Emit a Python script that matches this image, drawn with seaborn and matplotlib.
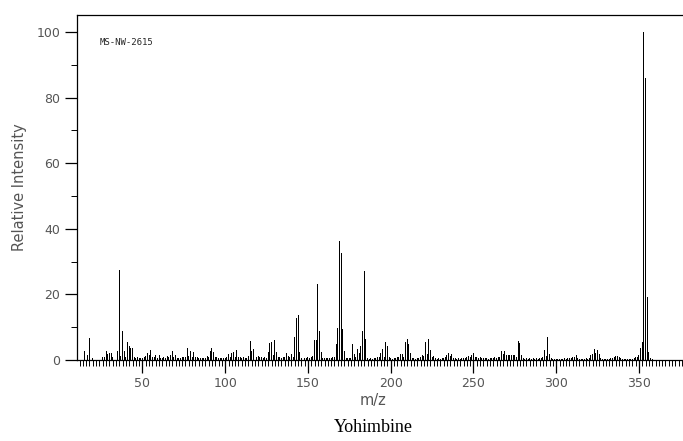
import numpy as np
import pandas as pd
import seaborn as sns
import matplotlib.pyplot as plt
from matplotlib.ticker import MultipleLocator

# relative intensity per integer m/z
mz_low = list(range(15, 100))
int_low = [2.8, 0, 1.5, 6.6, 0,                                # 15-19
           0.5, 0, 0, 0, 0, 0, 0.8, 1.0, 2.8, 1.8,              # 20-29
           2.0, 2.2, 1.0, 0, 0, 2.8, 27.5, 1.2, 8.9, 2.8,       # 30-39
           1.0, 5.6, 4.4, 3.6, 3.6, 1.0, 0.6, 0.8, 0.5, 0.7,    # 40-49
           0.6, 1.0, 1.2, 2.0, 1.5, 3.0, 0.8, 1.0, 1.5, 0.6,    # 50-59
           1.5, 0.5, 0.7, 1.0, 0.6, 1.2, 0.8, 1.5, 2.8, 1.0,    # 60-69
           1.5, 0.7, 0.5, 0.6, 1.0, 0.8, 1.0, 3.6, 1.2, 2.8,    # 70-79
           1.0, 2.3, 0.8, 1.0, 0.6, 0.7, 0.5, 0.6, 0.5, 1.2,    # 80-89
           0.8, 2.8, 3.6, 2.3, 1.0, 0.8, 0.7, 0.6, 0.5, 0.6]    # 90-99

mz_mid = list(range(100, 200))
int_mid = [0.5, 1.0, 1.8, 1.0, 2.0, 2.3, 1.0, 3.2, 1.0, 0.8,    # 100-109
           0.6, 1.0, 0.5, 0.7, 1.2, 5.9, 2.8, 3.4, 1.5, 1.0,    # 110-119
           1.2, 0.8, 1.0, 0.6, 0.8, 0.6, 2.5, 5.1, 5.4, 1.5,    # 120-129
           6.0, 2.4, 1.0, 0.8, 0.6, 1.0, 0.8, 2.0, 1.3, 0.8,    # 130-139
           1.7, 0.8, 7.0, 12.7, 13.8, 2.4, 0.6, 0.5, 0.7, 0.5,  # 140-149
           0.8, 0.6, 1.0, 1.2, 6.2, 6.0, 23.2, 8.8, 2.4, 0.6,   # 150-159
           0.7, 0.5, 0.6, 0.5, 0.6, 0.8, 1.0, 4.8, 9.7, 36.3,   # 160-169
           32.5, 9.6, 2.7, 0.6, 0.5, 0.6, 0.5, 4.8, 1.7, 0.8,   # 170-179
           3.3, 2.2, 4.3, 8.8, 27.1, 6.4, 0.7, 0.4, 0.5, 0.4,   # 180-189
           0.5, 0.6, 1.0, 1.0, 2.0, 3.3, 1.0, 5.6, 4.3, 0.8]    # 190-199

mz_high = list(range(200, 300))
int_high = [0.5, 0.4, 0.5, 0.6, 0.8, 1.0, 1.9, 1.9, 1.0, 5.6,   # 200-209
            6.3, 5.0, 2.2, 0.6, 0.5, 0.4, 0.5, 0.6, 0.8, 1.5,   # 210-219
            1.3, 5.6, 1.9, 6.5, 2.9, 0.8, 1.2, 0.5, 0.4, 0.5,   # 220-229
            0.4, 0.5, 0.6, 0.9, 1.4, 2.0, 1.2, 1.8, 0.6, 0.5,   # 230-239
            0.4, 0.5, 0.4, 0.5, 0.6, 0.5, 0.8, 1.2, 0.8, 1.5,   # 240-249
            2.0, 0.8, 1.0, 0.6, 0.8, 0.5, 0.6, 0.5, 0.7, 0.4,   # 250-259
            0.5, 0.6, 0.5, 0.8, 0.6, 1.0, 0.8, 2.6, 1.8, 2.6,   # 260-269
            1.6, 1.5, 1.6, 1.4, 1.5, 1.5, 0.8, 5.9, 5.2, 1.4,   # 270-279
            0.5, 0.4, 0.5, 0.4, 0.5, 0.4, 0.5, 0.4, 0.5, 0.4,   # 280-289
            0.6, 0.5, 0.8, 2.9, 1.2, 7.0, 1.8, 0.7, 0.4, 0.3]   # 290-299

mz_top = list(range(300, 359))
int_top = [0.4, 0.3, 0.4, 0.3, 0.4, 0.5, 0.4, 0.5, 0.6, 0.5,    # 300-309
           0.8, 1.0, 1.5, 0.5, 0.3, 0.4, 0.3, 0.4, 0.5, 0.4,    # 310-319
           0.6, 1.4, 1.7, 3.4, 2.2, 3.2, 1.7, 0.6, 0.4, 0.3,    # 320-329
           0.4, 0.3, 0.4, 0.5, 0.6, 1.0, 1.2, 1.1, 1.0, 0.7,    # 330-339
           0.4, 0.3, 0.4, 0.3, 0.4, 0.3, 0.4, 0.5, 0.8, 1.0,    # 340-349
           1.5, 3.6, 5.5, 100.0, 86.0, 19.3, 2.5, 0.6, 0.3]     # 350-358

df = pd.DataFrame({
    "mz": mz_low + mz_mid + mz_high + mz_top,
    "intensity": int_low + int_mid + int_high + int_top,
})

sns.set_style("ticks")
plt.rcParams["font.family"] = ["DejaVu Sans"]

fig = plt.figure(figsize=(6.83, 4.41), dpi=100)
ax = fig.add_axes([77 / 683, 81 / 441, 606 / 683, 345 / 441])

sns.histplot(data=df, x="mz", weights="intensity", discrete=True, shrink=0.6,
             color="black", alpha=1, linewidth=0, ax=ax)

ax.set_xlim(10.45, 376.6)
ax.set_ylim(0, 105.2)

for side in ["top", "left", "bottom"]:
    ax.spines[side].set_color("black")
    ax.spines[side].set_linewidth(0.9)
ax.spines["right"].set_visible(False)

ax.xaxis.set_major_locator(MultipleLocator(50))
ax.xaxis.set_minor_locator(MultipleLocator(2))
ax.yaxis.set_major_locator(MultipleLocator(20))
ax.yaxis.set_minor_locator(MultipleLocator(10))
ax.tick_params(which="major", length=9, width=0.9, color="black",
               labelsize=9, labelcolor="#555555", direction="out", pad=3)
ax.tick_params(which="minor", length=4, width=0.7, color="black", direction="out")

ax.set_xlabel("")
ax.set_ylabel("Relative Intensity", fontsize=10.5, color="#555555")
ax.yaxis.set_label_coords(-0.0825, 0.5)

ax.text(0.038, 0.919, "MS-NW-2615", transform=ax.transAxes,
        fontsize=6.5, family="DejaVu Sans Mono", va="center")

fig.text(373 / 683, 1 - 401 / 441, "m/z", ha="center", va="center",
         fontsize=10.5, color="#555555")
fig.text(373 / 683, 1 - 428 / 441, "Yohimbine", ha="center", va="center",
         fontsize=13, family="Liberation Serif", color="black")

plt.savefig("out.png", dpi=100)
